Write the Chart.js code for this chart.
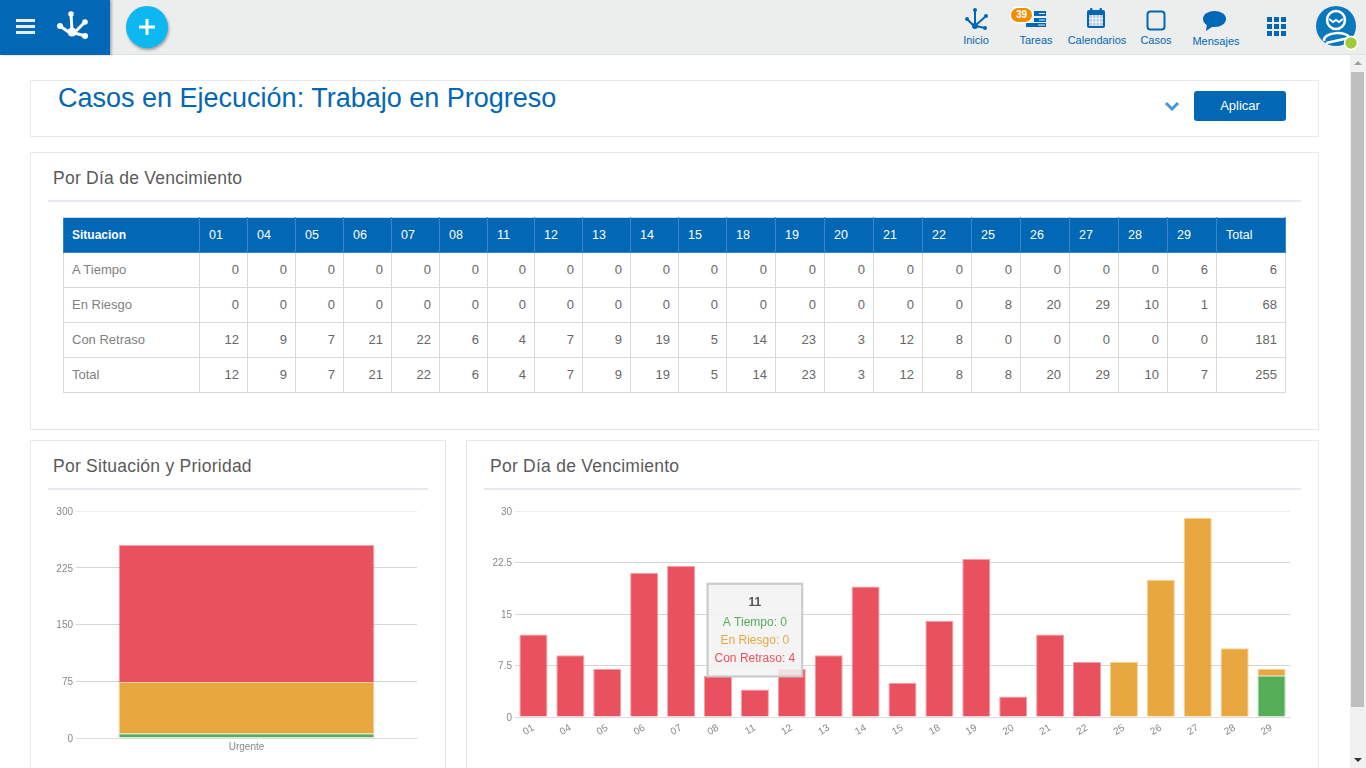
<!DOCTYPE html>
<html lang="es">
<head>
<meta charset="utf-8">
<title>Casos en Ejecución: Trabajo en Progreso</title>
<script src="https://cdn.jsdelivr.net/npm/chart.js@4/dist/chart.umd.js"></script>
<style>
	html, body { margin: 0; padding: 0; width: 1366px; height: 768px; overflow: hidden; background: #fff; font-family: "Liberation Sans", Arial, sans-serif; }
	.abs { position: absolute; }
	#topbar { left: 0; top: 0; width: 1366px; height: 54px; background: #eceeee; border-bottom: 1px solid #dde1e6; }
	#brand { left: 0; top: 0; width: 110px; height: 55px; background: #0267b5; box-shadow: 2px 0 2px rgba(0,0,0,.25); }
	#plus { left: 126px; top: 6px; width: 42px; height: 42px; border-radius: 50%; background: #0db8f0; box-shadow: 1px 2px 3px rgba(0,0,0,.35); }
	.navlabel { font-size: 11px; color: #0267b5; transform: translateX(-50%); white-space: nowrap; }
	#badge { left: 1011px; top: 8px; width: 21px; height: 14px; line-height: 14px; border-radius: 8px; background: #ef8f00; color: #fff; font-size: 10px; font-weight: bold; text-align: center; box-shadow: 0 0 0 1.5px #fff; }
	.card { box-sizing: border-box; border: 1px solid #e6e9ee; background: #fff; }
	.cardtitle { font-size: 17.5px; letter-spacing: .25px; color: #5a5a5a; white-space: nowrap; }
	.rule { height: 2px; background: #e6e9ee; }
	#pagetitle { left: 58px; top: 83px; font-size: 27px; color: #0267b5; white-space: nowrap; }
	#apply { left: 1194px; top: 91px; width: 92px; height: 30px; line-height: 30px; border-radius: 3px; background: #0267b5; color: #fff; text-align: center; font-size: 13px; }
	#grid { left: 63px; top: 217px; border-collapse: collapse; table-layout: fixed; font-size: 13px; color: #777; }
	#grid th, #grid td { box-sizing: border-box; height: 35px; border: 1px solid #d8d8d8; padding: 0 8px; text-align: right; font-weight: normal; }
	#grid td { padding-bottom: 2px; }
	#grid th { background: #0267b5; color: #fff; border-color: #3a86c4; border-top-color: #d8d8d8; text-align: left; font-size: 12.5px; padding-left: 9px; }
	#grid th:first-child { font-weight: bold; font-size: 12px; padding-left: 8px; }
	#grid td:first-child { text-align: left; padding-left: 8px; }
	#grid td { color: #666; }
	#grid td:first-child { color: #808080; }
	#track { left: 1350px; top: 55px; width: 16px; height: 713px; background: #f1f1f1; }
	#thumb { left: 1351px; top: 72px; width: 13px; height: 635px; background: #bfbfbf; }
	canvas { display: block; }
</style>
</head>
<body>

<div class="abs" id="topbar"></div>
<div class="abs" id="brand"></div>
<svg class="abs" style="left:0;top:0" width="110" height="55">
	<g fill="#e8edf2"><rect x="16" y="19" width="19" height="3"/><rect x="16" y="25" width="19" height="3"/><rect x="16" y="31" width="19" height="3"/></g>
	<g stroke="#fff" stroke-width="3" fill="none"><path d="M71 14 L72 30 M60 26 L70 33 M85 22 L76 31 M86 36 L74 33"/></g>
	<g fill="#fff"><circle cx="71" cy="14" r="2.8"/><circle cx="60" cy="26" r="3"/><circle cx="85" cy="22" r="2.8"/><circle cx="85" cy="36" r="3"/><circle cx="72" cy="32" r="4.5"/></g>
</svg>
<div class="abs" id="plus"></div>
<svg class="abs" style="left:126px;top:6px" width="42" height="42"><path d="M21 13 V29 M13 21 H29" stroke="#fff" stroke-width="3"/></svg>

<svg class="abs" style="left:960px;top:5px" width="406" height="50">
	<g stroke="#0267b5" stroke-width="2" fill="none"><path d="M15 5 L15 20 M7 14 L14 21 M26 11 L16 20 M25 23 L16 21"/></g>
	<g fill="#0267b5"><circle cx="15" cy="5" r="2"/><circle cx="7" cy="14" r="2"/><circle cx="26" cy="11" r="2"/><circle cx="25" cy="23" r="2"/><circle cx="15" cy="21" r="3"/></g>
	<g fill="#0267b5"><rect x="74" y="6" width="12" height="5"/><rect x="74" y="13" width="12" height="4"/><rect x="66" y="18" width="20" height="4"/></g>
	<g stroke="#eceeee" stroke-width="1"><path d="M79 8.5 H85 M79 15 H85 M78 20 H85"/></g>
	<g fill="#0267b5"><rect x="127" y="5" width="18" height="18" rx="2"/><rect x="130" y="3" width="2.5" height="5" rx="1"/><rect x="139.5" y="3" width="2.5" height="5" rx="1"/></g>
	<g fill="#b9cde3"><rect x="129" y="10" width="14" height="11"/></g>
	<g stroke="#fff" stroke-width=".8"><path d="M129 13.5 H143 M129 17 H143 M132.5 10 V21 M136 10 V21 M139.5 10 V21"/></g>
	<rect x="187.5" y="6.5" width="17" height="18" rx="3" fill="none" stroke="#0267b5" stroke-width="2"/>
	<ellipse cx="254.5" cy="14" rx="11.5" ry="8" fill="#0267b5"/>
	<path d="M247 19 L246 26 L255 20 Z" fill="#0267b5"/>
	<g fill="#0267b5"><rect x="307" y="12" width="5" height="5"/><rect x="314" y="12" width="5" height="5"/><rect x="321" y="12" width="5" height="5"/><rect x="307" y="19" width="5" height="5"/><rect x="314" y="19" width="5" height="5"/><rect x="321" y="19" width="5" height="5"/><rect x="307" y="26" width="5" height="5"/><rect x="314" y="26" width="5" height="5"/><rect x="321" y="26" width="5" height="5"/></g>
	<circle cx="376" cy="21" r="20" fill="#0b78bd"/>
	<circle cx="376" cy="15" r="9" fill="none" stroke="#fff" stroke-width="2.5"/>
	<path d="M369 14 L373 17 L376 15 L379 17 L383 14" fill="none" stroke="#fff" stroke-width="2"/>
	<path d="M364 36 C363 26 389 26 389 33 L366 38" fill="none" stroke="#fff" stroke-width="2.5"/>
	<circle cx="391" cy="38" r="6.5" fill="#a2c93a" stroke="#fff" stroke-width="1.5"/>
</svg>
<div class="abs" id="badge">39</div>
<div class="abs navlabel" style="left:976px;top:34px">Inicio</div>
<div class="abs navlabel" style="left:1036px;top:34px">Tareas</div>
<div class="abs navlabel" style="left:1097px;top:34px">Calendarios</div>
<div class="abs navlabel" style="left:1156px;top:34px">Casos</div>
<div class="abs navlabel" style="left:1216px;top:35px">Mensajes</div>

<div class="abs card" style="left:30px;top:80px;width:1289px;height:57px"></div>
<div class="abs" id="pagetitle">Casos en Ejecución: Trabajo en Progreso</div>
<svg class="abs" style="left:1164px;top:101px" width="16" height="10"><path d="M2 2 L8 8 L14 2" fill="none" stroke="#4a97d8" stroke-width="3"/></svg>
<div class="abs" id="apply">Aplicar</div>

<div class="abs card" style="left:30px;top:152px;width:1289px;height:278px"></div>
<div class="abs cardtitle" style="left:53px;top:168px">Por Día de Vencimiento</div>
<div class="abs rule" style="left:48px;top:200px;width:1253px"></div>
<table class="abs" id="grid"></table>

<div class="abs card" style="left:30px;top:440px;width:416px;height:340px"></div>
<div class="abs cardtitle" style="left:53px;top:456px">Por Situación y Prioridad</div>
<div class="abs rule" style="left:48px;top:488px;width:380px"></div>
<div class="abs" style="left:48px;top:500px;width:380px;height:268px"><canvas id="prioridadcanvas" width="380" height="268"></canvas></div>

<div class="abs card" style="left:466px;top:440px;width:853px;height:340px"></div>
<div class="abs cardtitle" style="left:490px;top:456px">Por Día de Vencimiento</div>
<div class="abs rule" style="left:484px;top:488px;width:817px"></div>
<div class="abs" style="left:484px;top:500px;width:817px;height:268px"><canvas id="vencimientocanvas" width="817" height="268"></canvas></div>

<div class="abs" id="track"></div>
<div class="abs" id="thumb"></div>
<svg class="abs" style="left:1350px;top:55px" width="16" height="713"><path d="M4 10 L8 6 L12 10 Z" fill="#a0a0a0"/><path d="M4 703 L12 703 L8 707 Z" fill="#333"/></svg>

<script>
	var dias = ['01', '04', '05', '06', '07', '08', '11', '12', '13', '14', '15', '18', '19', '20', '21', '22', '25', '26', '27', '28', '29'];
	var aTiempo = [0, 0, 0, 0, 0, 0, 0, 0, 0, 0, 0, 0, 0, 0, 0, 0, 0, 0, 0, 0, 6];
	var enRiesgo = [0, 0, 0, 0, 0, 0, 0, 0, 0, 0, 0, 0, 0, 0, 0, 0, 8, 20, 29, 10, 1];
	var conRetraso = [12, 9, 7, 21, 22, 6, 4, 7, 9, 19, 5, 14, 23, 3, 12, 8, 0, 0, 0, 0, 0];
	var totalDia = [12, 9, 7, 21, 22, 6, 4, 7, 9, 19, 5, 14, 23, 3, 12, 8, 8, 20, 29, 10, 7];
	var totalFila = [6, 68, 181, 255];

	var prioridades = ['Urgente'];
	var prioridadATiempo = [6];
	var prioridadEnRiesgo = [68];
	var prioridadConRetraso = [181];

	var colWidths = [136, 48, 48, 48, 48, 48, 48, 47, 48, 48, 48, 48, 49, 49, 49, 49, 49, 49, 49, 49, 49, 49, 69];

	var VERDE = '#55ae57', NARANJA = '#e9a83f', ROJO = '#ea515e';

	Chart.defaults.font.family = '"Liberation Sans", Arial, sans-serif';
	Chart.defaults.font.size = 10;
	Chart.defaults.color = '#888';

	buildTable();
	drawPrioridadChart();
	drawVencimientoChart();

	function buildTable() {
		var rows = [
			['A Tiempo'].concat(aTiempo, totalFila[0]),
			['En Riesgo'].concat(enRiesgo, totalFila[1]),
			['Con Retraso'].concat(conRetraso, totalFila[2]),
			['Total'].concat(totalDia, totalFila[3])
		];
		var html = '<colgroup>' + colWidths.map(function (w) { return '<col style="width:' + w + 'px">'; }).join('') + '</colgroup>';
		html += '<tr>' + ['Situacion'].concat(dias, 'Total').map(function (h) { return '<th>' + h + '</th>'; }).join('') + '</tr>';
		rows.forEach(function (row) {
			html += '<tr>' + row.map(function (c) { return '<td>' + c + '</td>'; }).join('') + '</tr>';
		});
		var table = document.getElementById('grid');
		table.innerHTML = html;
		table.style.width = colWidths.reduce(function (a, b) { return a + b; }, 0) + 'px';
	}

	function dataset(label, data, color, border, barPercentage) {
		return {
			label: label,
			data: data,
			backgroundColor: color,
			borderColor: border,
			borderWidth: 1,
			barPercentage: barPercentage,
			categoryPercentage: 1
		};
	}

	// the grid goes lighter on the top and bottom lines
	function gridColor(ctx) {
		return (ctx.index === 0 || ctx.index === ctx.chart.scales.y.ticks.length - 1) ? '#ececec' : '#d6d6d6';
	}

	function scales(stepSize, max, yWidth, xHeight, rotation, xPadding) {
		return {
			x: {
				stacked: true,
				grid: { display: false, drawTicks: false },
				border: { color: '#ddd' },
				ticks: { minRotation: rotation, maxRotation: rotation, padding: xPadding, autoSkip: false },
				afterFit: function (axis) { axis.height = xHeight; }
			},
			y: {
				stacked: true,
				min: 0,
				max: max,
				grid: { color: gridColor, drawTicks: false },
				border: { display: false },
				ticks: { stepSize: stepSize, padding: 3, labelOffset: 1 },
				afterFit: function (axis) { axis.width = yWidth; }
			}
		};
	}

	function drawPrioridadChart() {
		new Chart(document.getElementById('prioridadcanvas'), {
			type: 'bar',
			data: {
				labels: prioridades,
				datasets: [
					dataset('A Tiempo', prioridadATiempo, VERDE, 'rgba(85,174,87,.5)', 0.75),
					dataset('En Riesgo', prioridadEnRiesgo, NARANJA, 'rgba(233,168,63,.5)', 0.75),
					dataset('Con Retraso', prioridadConRetraso, ROJO, 'rgba(234,81,94,.5)', 0.75)
				]
			},
			options: {
				responsive: false,
				animation: false,
				events: [],
				layout: { padding: { top: 11, right: 11 } },
				plugins: { legend: { display: false }, tooltip: { enabled: false } },
				scales: scales(75, 300, 28, 30, 0, 3)
			}
		});
	}

	function drawVencimientoChart() {
		var tooltipTop = 19.4, activeDia = dias.indexOf('11');
		var lineColors = [VERDE, NARANJA, ROJO];

		Chart.Tooltip.positioners.sobreBarra = function (items) {
			if (!items.length) return false;
			return { x: items[0].element.x, y: this.chart.scales.y.getPixelForValue(tooltipTop) };
		};

		var chart = new Chart(document.getElementById('vencimientocanvas'), {
			type: 'bar',
			data: {
				labels: dias,
				datasets: [
					dataset('A Tiempo', aTiempo, VERDE, 'rgba(85,174,87,.55)', 0.76),
					dataset('En Riesgo', enRiesgo, NARANJA, 'rgba(233,168,63,.55)', 0.76),
					dataset('Con Retraso', conRetraso, ROJO, 'rgba(234,81,94,.55)', 0.76)
				]
			},
			options: {
				responsive: false,
				animation: false,
				events: [],
				layout: { padding: { top: 11, right: 11 } },
				plugins: {
					legend: { display: false },
					tooltip: {
						animation: false,
						position: 'sobreBarra',
						xAlign: 'center',
						yAlign: 'top',
						caretSize: 0,
						caretPadding: 0,
						cornerRadius: 0,
						displayColors: false,
						backgroundColor: 'rgba(243,243,243,.88)',
						borderColor: '#c8c8c8',
						borderWidth: 2,
						padding: { left: 7, right: 7, top: 12, bottom: 11 },
						titleColor: '#555',
						titleAlign: 'center',
						bodyAlign: 'center',
						titleFont: { size: 12, weight: 'bold' },
						bodyFont: { size: 12 },
						titleMarginBottom: 5,
						bodySpacing: 3.6,
						callbacks: {
							labelTextColor: function (item) { return lineColors[item.datasetIndex]; }
						}
					}
				},
				scales: scales(7.5, 30, 31, 51, 30, 5)
			}
		});

		chart.tooltip.setActiveElements([
			{ datasetIndex: 0, index: activeDia },
			{ datasetIndex: 1, index: activeDia },
			{ datasetIndex: 2, index: activeDia }
		], { x: 0, y: 0 });
		chart.update();
	}
</script>
</body>
</html>
